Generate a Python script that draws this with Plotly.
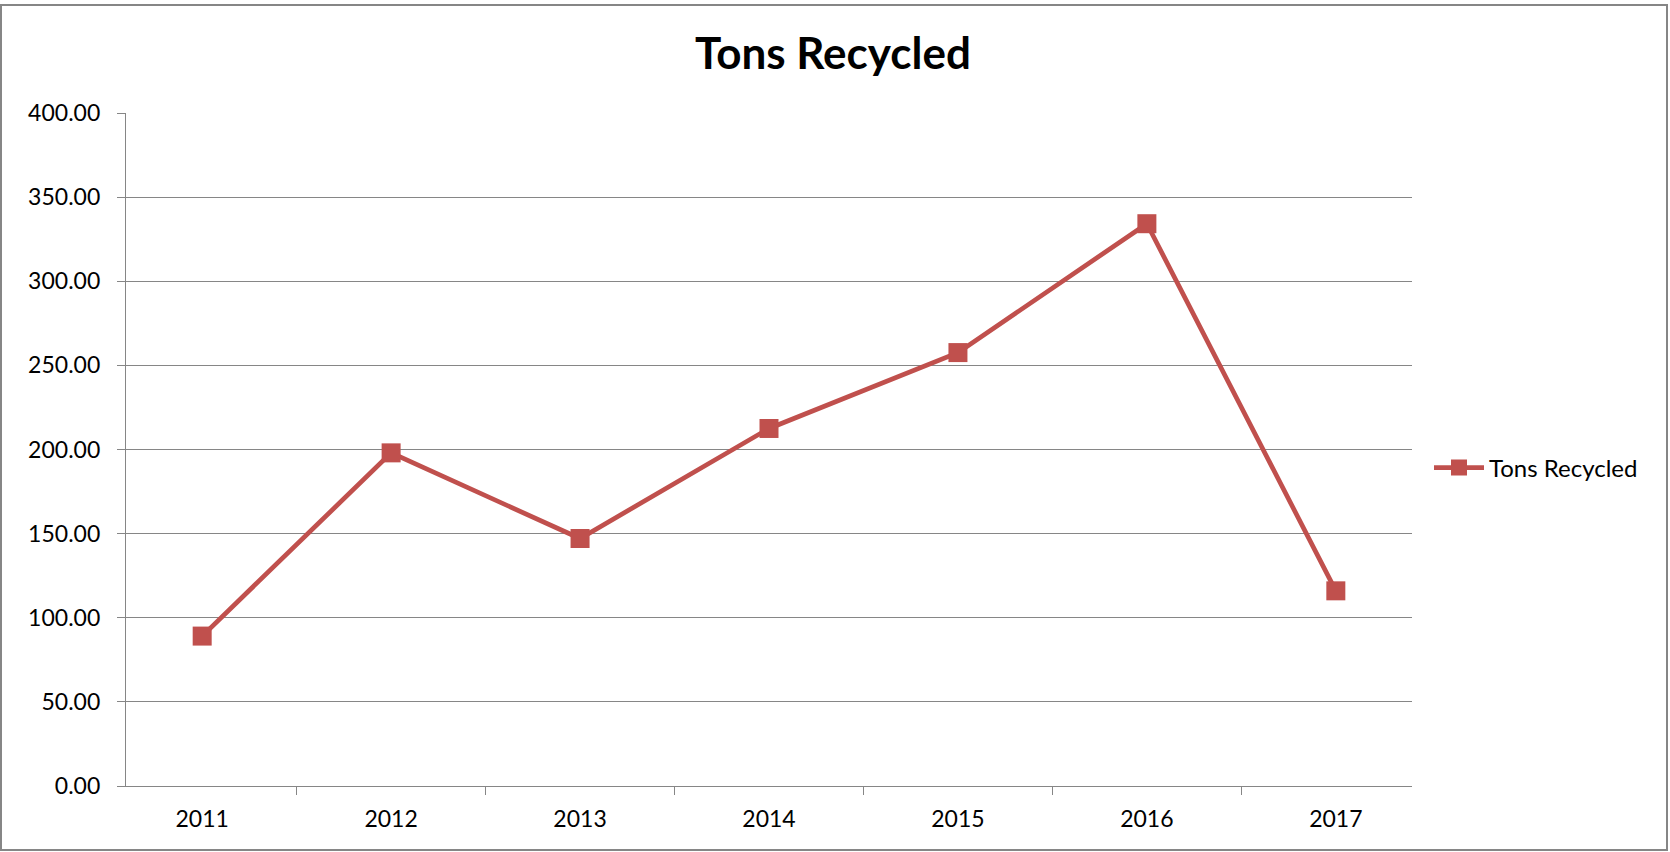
import plotly.graph_objects as go

years = ["2011", "2012", "2013", "2014", "2015", "2016", "2017"]
tons_recycled = [89.1, 198.0, 147.1, 212.5, 257.6, 334.2, 116.0]
series_name = "Tons Recycled"
chart_title = "Tons Recycled"

W, H = 1670, 852
L, R, T, B = 126, 258, 113, 66
pw, ph = W - L - R, H - T - B

def px_x(p):
    return (p - L) / pw

def px_y(p):
    return (H - B - p) / ph

RED = "#C0504D"
GRID = "#868686"
FONT = "Lato"

fig = go.Figure()
fig.add_trace(go.Scatter(
    x=years, y=tons_recycled, name=series_name, mode="lines+markers",
    line=dict(color=RED, width=4.7),
    marker=dict(symbol="square", size=19, color=RED),
))

fig.update_layout(
    width=W, height=H,
    margin=dict(l=L, r=R, t=T, b=B),
    paper_bgcolor="white", plot_bgcolor="white",
    font=dict(family=FONT, size=23, color="black"),
    title=dict(text="<b>" + chart_title + "</b>", x=833 / W, xanchor="center",
               y=1 - 54 / H, yanchor="middle", yref="container",
               font=dict(family=FONT, size=44, color="black")),
    showlegend=True,
    legend=dict(x=px_x(1429), xanchor="left", y=px_y(468), yanchor="middle",
                itemwidth=50,
                font=dict(family=FONT, size=24, color="black"),
                bgcolor="rgba(0,0,0,0)"),
    xaxis=dict(type="category", showgrid=False, showline=True, linecolor=GRID, linewidth=1.3,
               ticks="outside", tickson="boundaries", ticklen=8, tickcolor=GRID, tickwidth=1.3,
               tickfont=dict(family=FONT, size=23, color="black"), ticklabelstandoff=12),
    yaxis=dict(range=[0, 400], dtick=50, tickformat=".2f", showgrid=True, gridcolor=GRID, gridwidth=1.3,
               showline=True, linecolor=GRID, linewidth=1.3, zeroline=False,
               ticks="outside", ticklen=8, tickcolor=GRID, tickwidth=1.3, ticklabelstandoff=12,
               tickfont=dict(family=FONT, size=23, color="black")),
    shapes=[dict(type="rect", xref="paper", yref="paper",
                 x0=px_x(1), x1=px_x(1667), y0=px_y(850), y1=px_y(5),
                 line=dict(color=GRID, width=2), fillcolor="rgba(0,0,0,0)", layer="below")],
)

fig.write_html("out.html", config={"displayModeBar": False},
               post_script="document.body.style.margin='0';")
